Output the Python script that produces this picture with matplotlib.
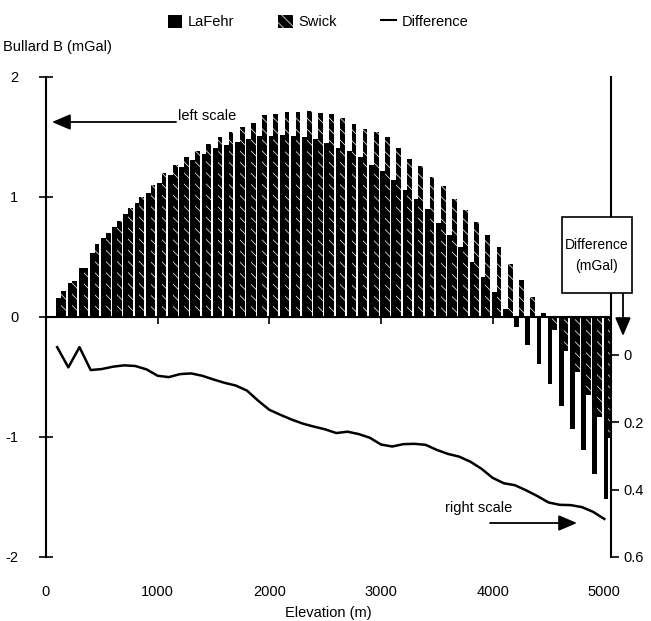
import numpy as np
import matplotlib
matplotlib.use("Agg")
import matplotlib.pyplot as plt
from matplotlib.patches import Patch, Rectangle
from matplotlib.lines import Line2D

plt.rcParams['font.family'] = ['Liberation Sans', 'DejaVu Sans']
plt.rcParams['font.size'] = 10.5
plt.rcParams['hatch.linewidth'] = 0.5

# --- Dane ---
elevation = np.arange(100, 5001, 100)
lafehr = [0.16, 0.28, 0.41, 0.53, 0.66, 0.75, 0.855, 0.95, 1.03, 1.115,
          1.18, 1.25, 1.31, 1.36, 1.41, 1.43, 1.46, 1.48, 1.51, 1.51,
          1.52, 1.51, 1.50, 1.48, 1.45, 1.41, 1.38, 1.33, 1.27, 1.22,
          1.14, 1.06, 0.98, 0.90, 0.785, 0.68, 0.58, 0.46, 0.33, 0.21,
          0.07, -0.08, -0.23, -0.395, -0.56, -0.745, -0.93, -1.11, -1.31, -1.52]
swick = [0.215, 0.30, 0.41, 0.605, 0.70, 0.80, 0.905, 1.00, 1.10, 1.20,
         1.27, 1.33, 1.38, 1.44, 1.50, 1.545, 1.58, 1.615, 1.685, 1.69,
         1.71, 1.71, 1.72, 1.70, 1.69, 1.66, 1.61, 1.57, 1.54, 1.50,
         1.41, 1.32, 1.26, 1.17, 1.09, 0.98, 0.89, 0.79, 0.68, 0.585,
         0.445, 0.31, 0.17, 0.03, -0.105, -0.285, -0.46, -0.65, -0.835, -1.01]
difference = [-0.023, 0.037, -0.023, 0.045, 0.042, 0.035, 0.031, 0.033, 0.043, 0.062,
              0.066, 0.057, 0.055, 0.062, 0.073, 0.083, 0.091, 0.106, 0.136, 0.163,
              0.178, 0.192, 0.204, 0.213, 0.221, 0.232, 0.228, 0.235, 0.246, 0.266,
              0.272, 0.265, 0.264, 0.267, 0.282, 0.294, 0.302, 0.317, 0.338, 0.365,
              0.381, 0.387, 0.402, 0.419, 0.438, 0.445, 0.446, 0.452, 0.466, 0.487]

left_ticks = [-2, -1, 0, 1, 2]
right_ticks = [0, 0.2, 0.4, 0.6]
right_labels = ["0", "0.2", "0.4", "0.6"]
x_ticks = [0, 1000, 2000, 3000, 4000, 5000]

W, H = 651, 621
fig = plt.figure(figsize=(W / 100, H / 100), dpi=100)
ax = fig.add_axes([46 / W, 1 - 557 / H, 565 / W, 480 / H])

# --- Słupki ---
bw = 42
ax.bar(elevation + 15, lafehr, width=bw, color="black", linewidth=0, zorder=2)
ax.bar(elevation + 57, swick, width=bw, facecolor="black", edgecolor="white",
       hatch="\\\\\\", linewidth=0, zorder=2)
ax.axhline(0, color="black", lw=1.5, zorder=3)
ax.plot(x_ticks[1:-1], [0] * (len(x_ticks) - 2), ls="none", marker=3, ms=5,
        mew=1.2, color="black", zorder=3)

ax.set_xlim(0, 5060)
ax.set_ylim(-2, 2)
ax.set_yticks(left_ticks)
ax.set_yticklabels([str(t) for t in left_ticks])
ax.set_xticks(x_ticks)
ax.set_xticklabels([str(t) for t in x_ticks])
ax.tick_params(axis="x", length=0, pad=20)
ax.tick_params(axis="y", direction="inout", length=10, width=1.2, pad=15)
for s in ["top", "bottom", "right"]:
    ax.spines[s].set_visible(False)
ax.spines["left"].set_linewidth(1.5)

# --- Prawa skala (różnica) ---
ax2 = ax.twinx()
ax2.plot(elevation, difference, color="black", lw=1.8)
ax2.set_ylim(0.6, -0.825)
ax2.set_yticks(right_ticks)
ax2.set_yticklabels(right_labels)
ax2.tick_params(axis="y", direction="out", length=6, width=1.2, pad=3)
for s in ["top", "bottom", "left"]:
    ax2.spines[s].set_visible(False)
ax2.spines["right"].set_linewidth(1.5)

# --- Opisy ---
fig.text(3 / W, 1 - 47 / H, "Bullard B (mGal)", ha="left", va="center")
fig.text(328 / W, 1 - 613 / H, "Elevation (m)", ha="center", va="center")

arrow_kw = dict(arrowstyle="-|>,head_length=0.75,head_width=0.32",
                mutation_scale=15, color="black", lw=1.3, shrinkA=0, shrinkB=0)
fig.text(178 / W, 1 - 116 / H, "left scale", ha="left", va="center")
ax.annotate("", xy=(52, H - 122), xytext=(176, H - 122),
            xycoords="figure pixels", textcoords="figure pixels", arrowprops=arrow_kw)
fig.text(445 / W, 1 - 508 / H, "right scale", ha="left", va="center")
ax.annotate("", xy=(577, H - 523), xytext=(490, H - 523),
            xycoords="figure pixels", textcoords="figure pixels", arrowprops=arrow_kw)

box = Rectangle((562 / W, 1 - 293 / H), 70 / W, 76 / H, transform=fig.transFigure,
                facecolor="white", edgecolor="black", lw=1.2, zorder=10)
fig.add_artist(box)
fig.text(597 / W, 1 - 245 / H, "Difference", ha="center", va="center", zorder=11,
         fontsize=10)
fig.text(597 / W, 1 - 266 / H, "(mGal)", ha="center", va="center", zorder=11,
         fontsize=10)
ax.annotate("", xy=(623, H - 336), xytext=(623, H - 293),
            xycoords="figure pixels", textcoords="figure pixels", arrowprops=arrow_kw)

handles = [Patch(facecolor="black", linewidth=0),
           Patch(facecolor="black", edgecolor="white", hatch="\\\\\\", linewidth=0),
           Line2D([0], [0], color="black", lw=1.5)]
fig.legend(handles, ["LaFehr", "Swick", "Difference"], loc="center",
           bbox_to_anchor=(318 / W, 1 - 22 / H), ncol=3, frameon=False,
           handlelength=1.0, handleheight=1.0, columnspacing=3.0, handletextpad=0.4)

fig.savefig("out.png", dpi=100)
